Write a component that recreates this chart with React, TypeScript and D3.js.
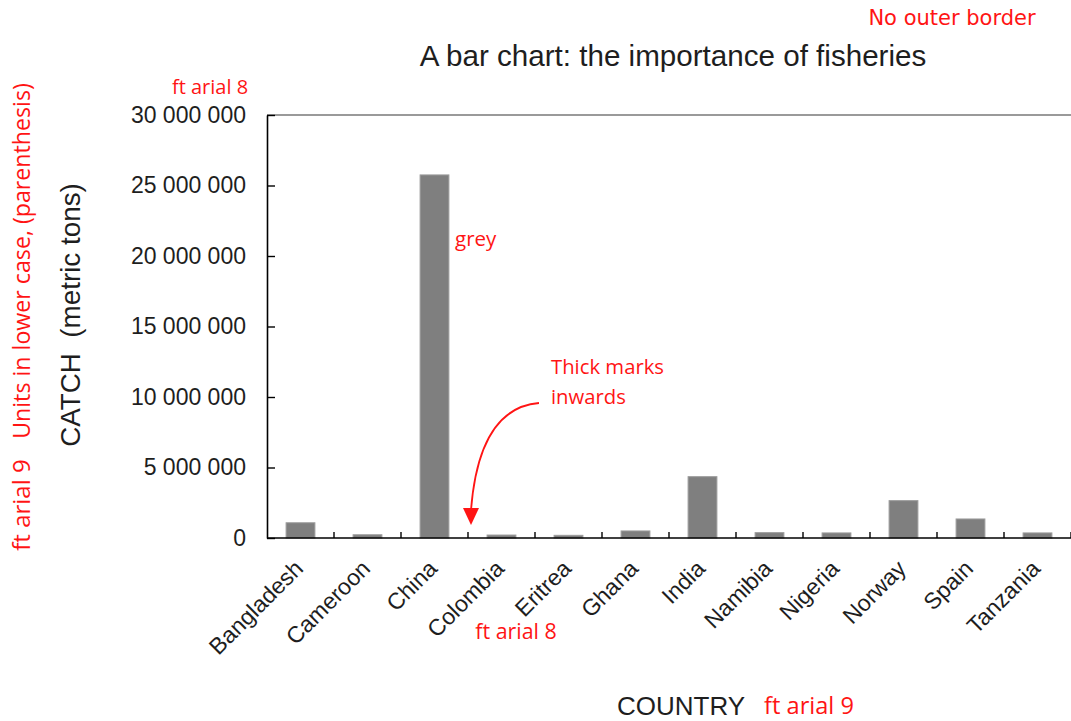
import React, { useEffect, useRef } from "react";
import * as d3 from "d3";

// Annual fisheries catch per country (metric tons)
const countries = [
  "Bangladesh", "Cameroon", "China", "Colombia", "Eritrea", "Ghana",
  "India", "Namibia", "Nigeria", "Norway", "Spain", "Tanzania",
];
const catchTons = [
  1080000, 230000, 25750000, 210000, 190000, 500000,
  4350000, 380000, 360000, 2650000, 1350000, 360000,
];
const yTicks = [0, 5000000, 10000000, 15000000, 20000000, 25000000, 30000000];

const W = 1071;
const H = 721;
const M = { left: 267, right: 1071, top: 115, bottom: 538 };

const ARIAL = "'Liberation Sans', Arial, sans-serif";
const NOTE = "'Open Sans', 'Noto Sans', sans-serif";
const INK = "#1e1e1e";
const RED = "#ff1414";

const fmt = (v: number) => d3.format(",")(v).replace(/,/g, " ");

export default function App() {
  const yAxisRef = useRef<SVGGElement>(null);

  const x = d3
    .scaleBand<string>()
    .domain(countries)
    .range([M.left, M.right])
    .paddingInner(0.57)
    .paddingOuter(0.285);
  const y = d3.scaleLinear().domain([0, 30000000]).range([M.bottom, M.top]);
  const step = x.step();

  useEffect(() => {
    if (!yAxisRef.current) return;
    const g = d3.select(yAxisRef.current);
    g.selectAll("*").remove();
    g.call(
      d3
        .axisLeft(y)
        .tickValues(yTicks)
        .tickFormat((d) => fmt(+d))
        .tickSizeInner(-8)
        .tickSizeOuter(0)
        .tickPadding(21)
    );
    g.select(".domain").attr("stroke", "#000").attr("stroke-width", 1.6);
    g.selectAll(".tick line").attr("stroke", "#000").attr("stroke-width", 1.4);
    g.selectAll(".tick text")
      .attr("fill", INK)
      .attr("font-family", ARIAL)
      .attr("font-size", 23);
  }, []);

  // boundaries between categories for the x tick marks
  const boundaries = countries.map((_, i) => M.left + step * (i + 1));

  return (
    <svg
      width={W}
      height={H}
      style={{ position: "absolute", left: 0, top: 0, background: "#fff" }}
    >
      {/* top line of the plot area */}
      <line
        x1={M.left}
        x2={M.right}
        y1={M.top}
        y2={M.top}
        stroke="#9a9a9a"
        strokeWidth={2}
      />

      {/* bars */}
      {countries.map((c, i) => (
        <rect
          key={c}
          x={x(c)}
          y={y(catchTons[i])}
          width={x.bandwidth()}
          height={M.bottom - y(catchTons[i])}
          fill="#7f7f7f"
          stroke="#9c9c9c"
          strokeWidth={1}
        />
      ))}

      {/* x axis baseline and inward tick marks */}
      <line
        x1={M.left}
        x2={M.right}
        y1={M.bottom}
        y2={M.bottom}
        stroke="#000"
        strokeWidth={1.6}
      />
      {boundaries.map((bx, i) => (
        <line
          key={i}
          x1={bx}
          x2={bx}
          y1={M.bottom}
          y2={M.bottom - 6}
          stroke="#000"
          strokeWidth={1.4}
        />
      ))}

      <g ref={yAxisRef} transform={`translate(${M.left},0)`} />

      {/* category labels */}
      {countries.map((c) => {
        const cx = (x(c) as number) + x.bandwidth() / 2 + 4;
        return (
          <text
            key={c}
            transform={`translate(${cx},570) rotate(-45)`}
            textAnchor="end"
            fontFamily={ARIAL}
            fontSize={23}
            fill={INK}
          >
            {c}
          </text>
        );
      })}

      {/* title and axis titles */}
      <text
        x={673}
        y={66}
        textAnchor="middle"
        fontFamily={ARIAL}
        fontSize={29.6}
        fill={INK}
      >
        A bar chart: the importance of fisheries
      </text>
      <text
        x={681}
        y={715}
        textAnchor="middle"
        fontFamily={ARIAL}
        fontSize={26}
        fill={INK}
      >
        COUNTRY
      </text>
      <text
        transform="translate(80,315) rotate(-90)"
        textAnchor="middle"
        fontFamily={ARIAL}
        fontSize={27.8}
        fill={INK}
        xmlSpace="preserve"
      >
        {"CATCH  (metric tons)"}
      </text>

      {/* style notes */}
      <g fontFamily={NOTE} fill={RED}>
        <text x={952} y={25} textAnchor="middle" fontSize={21} fontFamily="'DejaVu Sans', sans-serif">
          No outer border
        </text>
        <text x={210} y={94} textAnchor="middle" fontSize={20}>
          ft arial 8
        </text>
        <text x={455} y={246} fontSize={20.5}>
          grey
        </text>
        <text x={551} y={374} fontSize={20.3}>
          Thick marks
        </text>
        <text x={551} y={404} fontSize={20.3}>
          inwards
        </text>
        <text x={516} y={639} textAnchor="middle" fontSize={21.4}>
          ft arial 8
        </text>
        <text x={809} y={714} textAnchor="middle" fontSize={23.6}>
          ft arial 9
        </text>
        <text transform="translate(30,261) rotate(-90)" textAnchor="middle" fontSize={23.2}>
          Units in lower case, (parenthesis)
        </text>
        <text transform="translate(30,505) rotate(-90)" textAnchor="middle" fontSize={24}>
          ft arial 9
        </text>
      </g>

      {/* arrow pointing at a tick mark */}
      <path
        d="M539,403 Q479,408 471,510"
        fill="none"
        stroke={RED}
        strokeWidth={1.8}
      />
      <path d="M463,508 L479,508 L471,525 Z" fill={RED} />
    </svg>
  );
}
